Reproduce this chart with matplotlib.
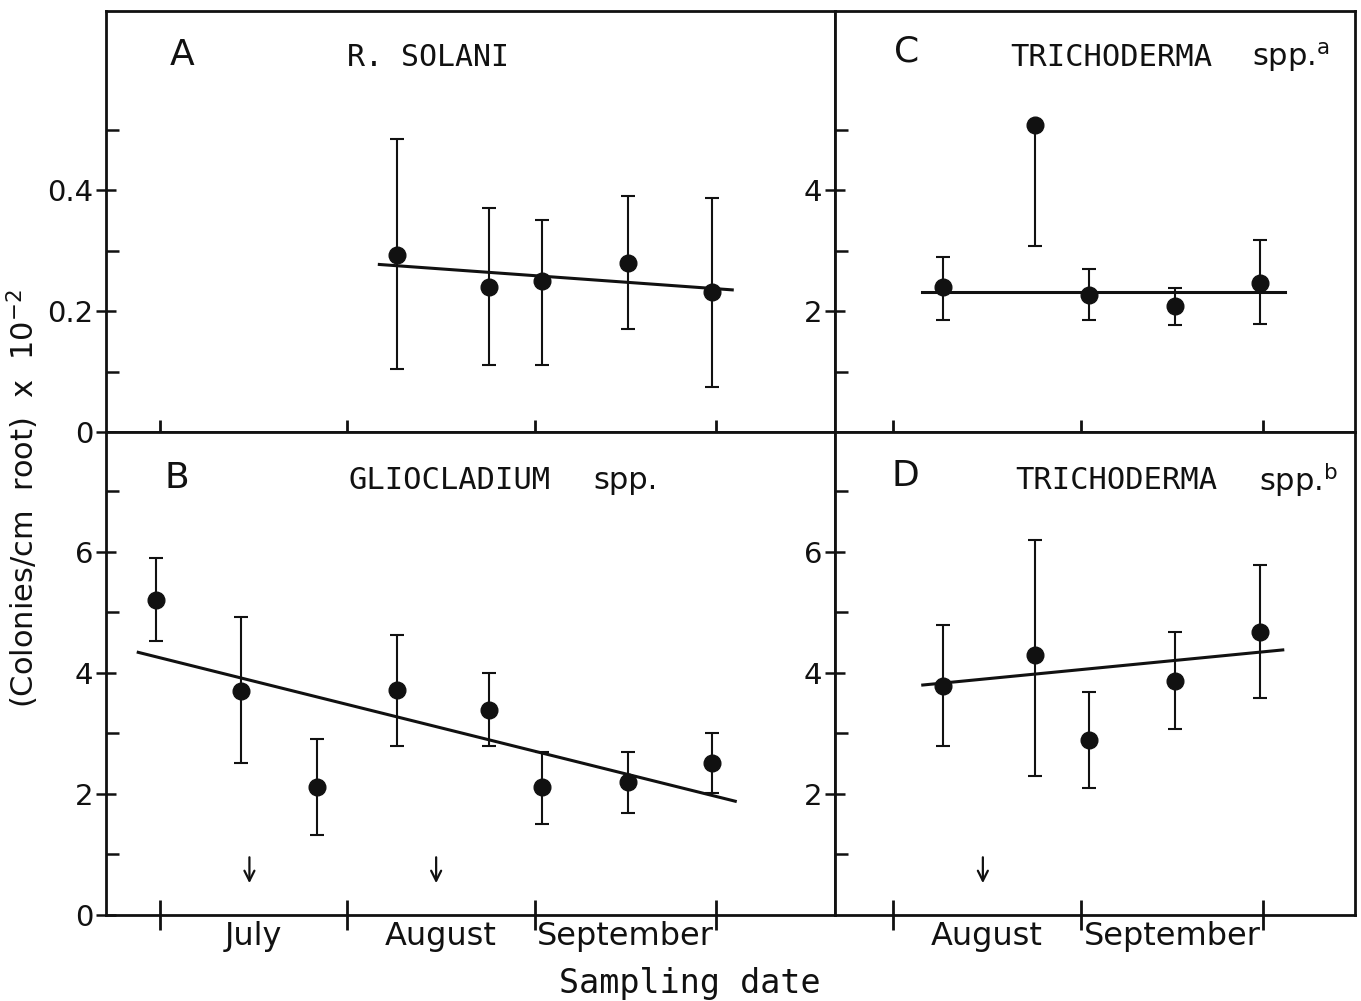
import matplotlib.pyplot as plt
import numpy as np

plt.rcParams['font.family'] = ['DejaVu Sans']
plt.rcParams['mathtext.fontset'] = 'dejavusans'

# sampling dates in days after 1 July
days = [-0.6, 13.4, 26.0, 39.2, 54.4, 63.3, 77.4, 91.4]

# A - R. solani (last five dates)
a_val = [0.292, 0.240, 0.250, 0.279, 0.231]
a_lo = [0.105, 0.111, 0.111, 0.171, 0.074]
a_hi = [0.484, 0.370, 0.351, 0.390, 0.387]
a_fit_x = [36.3, 94.7]
a_fit_y = [0.277, 0.235]

# B - Gliocladium spp.
b_val = [5.21, 3.70, 2.11, 3.71, 3.39, 2.12, 2.20, 2.51]
b_lo = [4.53, 2.51, 1.32, 2.80, 2.80, 1.50, 1.68, 2.01]
b_hi = [5.90, 4.92, 2.91, 4.62, 4.00, 2.69, 2.70, 3.01]
b_fit_x = [-3.6, 95.2]
b_fit_y = [4.34, 1.88]
b_arrows = [14.8, 45.7]

# C - Trichoderma spp. a
c_val = [2.39, 5.07, 2.27, 2.08, 2.46]
c_lo = [1.86, 3.08, 1.85, 1.77, 1.78]
c_hi = [2.89, 5.07, 2.69, 2.38, 3.17]
c_fit_x = [35.8, 95.6]
c_fit_y = [2.31, 2.31]

# D - Trichoderma spp. b
d_val = [3.79, 4.29, 2.89, 3.87, 4.68]
d_lo = [2.79, 2.30, 2.10, 3.07, 3.59]
d_hi = [4.79, 6.19, 3.68, 4.68, 5.78]
d_fit_x = [35.9, 95.2]
d_fit_y = [3.80, 4.38]
d_arrows = [45.8]

month_edges_left = [0, 31, 62, 92]
month_names_left = ['July', 'August', 'September']
month_edges_right = [31, 62, 92]
month_names_right = ['August', 'September']

ink = '#111111'
mono = 'DejaVu Sans Mono'

fig = plt.figure(figsize=(13.61, 10.01), dpi=100)
axA = fig.add_axes([0.0779, 0.5684, 0.5356, 0.4206])
axB = fig.add_axes([0.0779, 0.0859, 0.5356, 0.4825])
axC = fig.add_axes([0.6135, 0.5684, 0.3821, 0.4206])
axD = fig.add_axes([0.6135, 0.0859, 0.3821, 0.4825])


def draw(ax, x, val, lo, hi, fx, fy):
    yerr = [np.subtract(val, lo), np.subtract(hi, val)]
    ax.errorbar(x, val, yerr=yerr, fmt='o', color=ink, ms=12,
                elinewidth=1.5, capsize=4.8, capthick=1.5, zorder=3)
    ax.plot(fx, fy, color=ink, lw=2.2, zorder=2)


draw(axA, days[3:], a_val, a_lo, a_hi, a_fit_x, a_fit_y)
draw(axB, days, b_val, b_lo, b_hi, b_fit_x, b_fit_y)
draw(axC, days[3:], c_val, c_lo, c_hi, c_fit_x, c_fit_y)
draw(axD, days[3:], d_val, d_lo, d_hi, d_fit_x, d_fit_y)

for ax, arr in [(axB, b_arrows), (axD, d_arrows)]:
    for xa in arr:
        ax.annotate('', xy=(xa, 0.48), xytext=(xa, 1.0),
                    arrowprops=dict(arrowstyle='->', lw=1.6, color=ink,
                                    mutation_scale=18))

axA.set_xlim(-8.93, 111.7)
axB.set_xlim(-8.93, 111.7)
axC.set_xlim(21.44, 107.1)
axD.set_xlim(21.44, 107.1)
axA.set_ylim(0, 0.696)
axC.set_ylim(0, 6.96)
axB.set_ylim(0, 7.98)
axD.set_ylim(0, 7.98)

axA.set_yticks([0, 0.2, 0.4], ['0', '0.2', '0.4'])
axA.set_yticks([0.1, 0.3, 0.5], minor=True)
axB.set_yticks([0, 2, 4, 6], ['0', '2', '4', '6'])
axB.set_yticks([1, 3, 5, 7], minor=True)
axC.set_yticks([2, 4], ['2', '4'])
axC.set_yticks([1, 3, 5], minor=True)
axD.set_yticks([2, 4, 6], ['2', '4', '6'])
axD.set_yticks([1, 3, 5, 7], minor=True)

for ax, edges, names in [(axA, month_edges_left, None), (axB, month_edges_left, month_names_left),
                         (axC, month_edges_right, None), (axD, month_edges_right, month_names_right)]:
    ax.set_xticks(edges, [''] * len(edges))
    if names:
        mids = [(edges[i] + edges[i + 1]) / 2 for i in range(len(names))]
        ax.set_xticks(mids, names, minor=True)
        ax.tick_params(axis='x', which='major', direction='inout', length=22, width=2, color=ink)
        ax.tick_params(axis='x', which='minor', length=0, pad=4, labelsize=23, labelcolor=ink)
    else:
        ax.tick_params(axis='x', which='major', direction='inout', length=17, width=2, color=ink)
    ax.tick_params(axis='y', which='major', direction='inout', length=14, width=1.8,
                   labelsize=21, pad=2, color=ink, labelcolor=ink)
    ax.tick_params(axis='y', which='minor', direction='in', length=9, width=1.8, color=ink)
    for s in ax.spines.values():
        s.set_linewidth(2)
        s.set_color(ink)

# panel letters
axA.text(0.104, 0.895, 'A', transform=axA.transAxes, fontsize=26, ha='center', va='center', color=ink)
axB.text(0.097, 0.905, 'B', transform=axB.transAxes, fontsize=26, ha='center', va='center', color=ink)
axC.text(0.137, 0.905, 'C', transform=axC.transAxes, fontsize=26, ha='center', va='center', color=ink)
axD.text(0.135, 0.909, 'D', transform=axD.transAxes, fontsize=26, ha='center', va='center', color=ink)

# organism names
axA.text(0.331, 0.89, 'R. SOLANI', transform=axA.transAxes, fontsize=21.5, family=mono,
         ha='left', va='center', color=ink)
axB.text(0.333, 0.90, 'GLIOCLADIUM', transform=axB.transAxes, fontsize=22, family=mono,
         ha='left', va='center', color=ink)
axB.text(0.668, 0.90, 'spp.', transform=axB.transAxes, fontsize=22, ha='left', va='center', color=ink)
axC.text(0.337, 0.89, 'TRICHODERMA', transform=axC.transAxes, fontsize=22, family=mono,
         ha='left', va='center', color=ink)
axC.text(0.802, 0.89, 'spp.$^{\\mathrm{a}}$', transform=axC.transAxes, fontsize=22,
         ha='left', va='center', color=ink)
axD.text(0.346, 0.90, 'TRICHODERMA', transform=axD.transAxes, fontsize=22, family=mono,
         ha='left', va='center', color=ink)
axD.text(0.815, 0.90, 'spp.$^{\\mathrm{b}}$', transform=axD.transAxes, fontsize=22,
         ha='left', va='center', color=ink)

fig.text(0.0165, 0.502, '(Colonies/cm  root)  x  10$^{-2}$', rotation=90, ha='center', va='center',
         fontsize=22, color=ink)
fig.text(0.507, 0.017, 'Sampling date', ha='center', va='center', fontsize=24, family=mono, color=ink)

fig.savefig('out.png', dpi=100, facecolor='white')
